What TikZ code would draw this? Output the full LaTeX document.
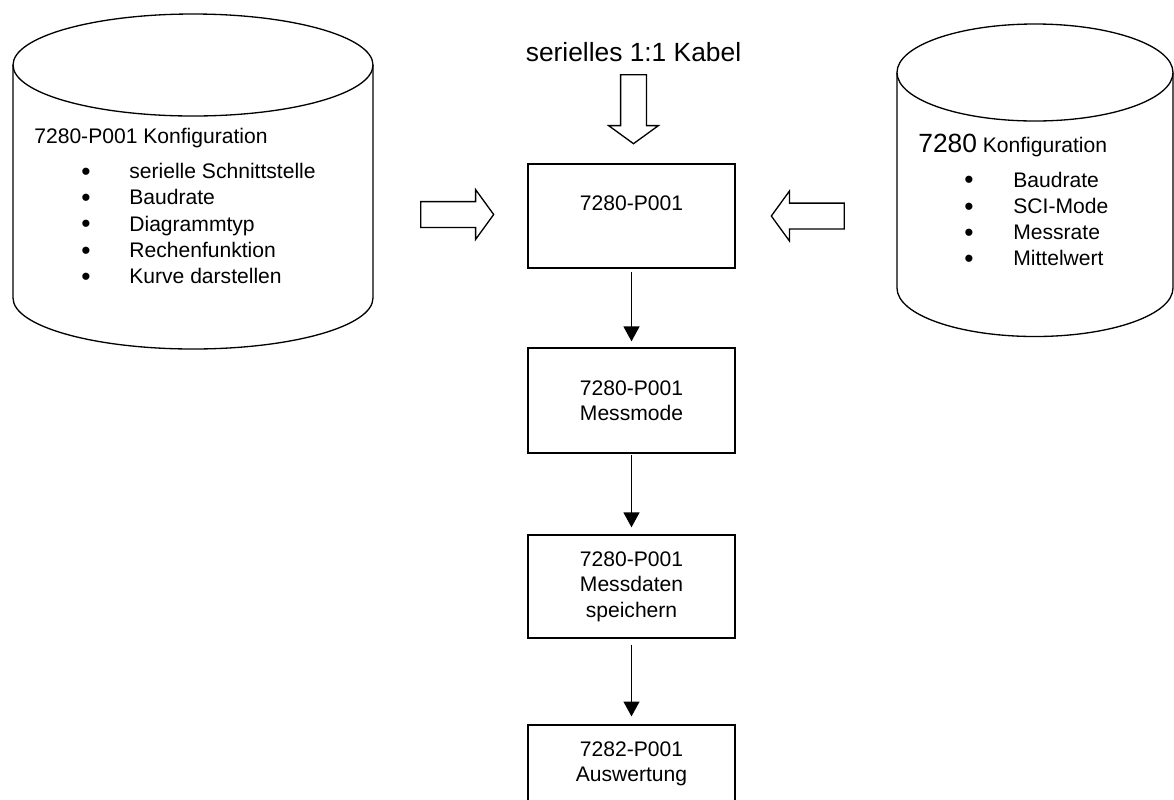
\documentclass[tikz,border=0pt]{standalone}
\usepackage{fontspec}
\setmainfont{Liberation Sans}
\usetikzlibrary{shapes.arrows,arrows.meta}

\begin{document}
\begin{tikzpicture}[x=0.02cm,y=0.02cm,
    cyl/.style ={line width=0.75pt},
    procbox/.style ={draw, line width=0.75pt, minimum width=4.14cm, inner sep=0pt,
                     align=center, font=\fontsize{12}{14.5}\selectfont},
    hollow/.style ={single arrow, draw, line width=0.75pt, inner sep=0pt, inner ysep=0.245cm,
                    single arrow head extend=0.24cm, single arrow tip angle=108,
                    minimum width=1pt},
    flow/.style ={-{Triangle[length=8.5pt,width=9pt]}, line width=1.1pt},
    cyltext/.style ={anchor=base west, inner sep=0pt, font=\fontsize{12}{14.5}\selectfont},
    bulletmark/.style ={anchor=base, inner sep=0pt, yshift=-1pt, font=\fontsize{15}{15}\selectfont}]
   \useasboundingbox (0,0) rectangle (1174,-799);

   % Datenbank links
   \draw[cyl] (13,-65) -- (13,-298) arc[start angle=180, end angle=360, x radius=180, y radius=51] -- (373,-65);
   \draw[cyl] (193,-65) ellipse[x radius=180, y radius=51];
   \node[cyltext] (PK) at (34,-143) {7280-P001 Konfiguration};
   \foreach \txt [count=\i] in {serielle Schnittstelle, Baudrate, Diagrammtyp, Rechenfunktion, Kurve darstellen} {
     \node[bulletmark] (PB\i) at (86,{-178.5-26.3*(\i-1)}) {\textbullet};
     \node[cyltext] (PT\i) at (129,{-178.5-26.3*(\i-1)}) {\txt};
   }

   % Datenbank rechts
   \draw[cyl] (897,-72.5) -- (897,-288) arc[start angle=180, end angle=360, x radius=138, y radius=48.5] -- (1173,-72.5);
   \draw[cyl] (1035,-72.5) ellipse[x radius=138, y radius=48.5];
   \node[cyltext] (GK) at (918,-152) {{\fontsize{15}{18}\selectfont 7280} Konfiguration};
   \foreach \txt [count=\i] in {Baudrate, SCI-Mode, Messrate, Mittelwert} {
     \node[bulletmark] (GB\i) at (969,{-187-26.3*(\i-1)}) {\textbullet};
     \node[cyltext] (GT\i) at (1013,{-187-26.3*(\i-1)}) {\txt};
   }

   % Kabel
   \node[anchor=base, inner sep=0pt, font=\fontsize{15}{18}\selectfont] (K) at (633.5,-61) {serielles 1:1 Kabel};

   % Hohlpfeile
   \node[hollow, minimum height=1.38cm, rotate=-90] (AT) at (633.5,-104.5) {};
   \node[hollow, minimum height=1.46cm] (AL) at (452.5,-214.5) {};
   \node[hollow, minimum height=1.46cm, rotate=180] (AR) at (812.5,-216) {};

   % Ablauf
   \node[procbox, minimum height=2.08cm] (A) at (631.5,-216) {7280-P001\\~};
   \node[procbox, minimum height=2.10cm] (B) at (631.5,-400.5) {7280-P001\\Messmode};
   \node[procbox, minimum height=2.06cm] (C) at (631.5,-586.5) {7280-P001\\Messdaten\\speichern};
   \node[procbox, minimum height=1.56cm] (D) at (631.5,-764) {7282-P001\\Auswertung};

   \draw[flow, shorten <=2pt, shorten >=3.4pt] (A) to (B);
   \draw[flow, shorten <=1pt, shorten >=4pt] (B) to (C);
   \draw[flow, shorten <=3.4pt, shorten >=4.5pt] (C) to (D);
\end{tikzpicture}
\end{document}
